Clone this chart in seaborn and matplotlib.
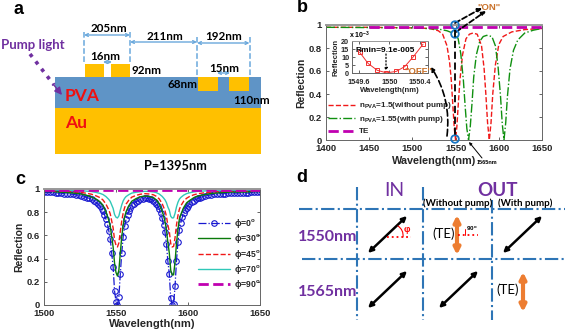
import matplotlib
matplotlib.use("Agg")
import matplotlib.pyplot as plt
import seaborn as sns
from matplotlib.patches import Rectangle, Circle, FancyArrowPatch

sns.set_style("white")
plt.rcParams['font.family'] = ['Liberation Sans', 'DejaVu Sans']
plt.rcParams['mathtext.fontset'] = 'custom'
plt.rcParams['mathtext.bf'] = 'Liberation Sans:bold'
plt.rcParams['mathtext.rm'] = 'Liberation Sans:bold'
plt.rcParams['mathtext.default'] = 'bf'

W, H = 567, 330

# panel b curves
wl_b_red = [1400, 1450, 1500, 1520, 1530, 1535, 1540, 1543, 1545, 1547, 1548.5, 1550, 1551.5, 1553, 1555, 1558,
            1562, 1566, 1570, 1575, 1580, 1583, 1585, 1587, 1589, 1591, 1593, 1596, 1600, 1605, 1615, 1630, 1650]
r_b_red = [.98, .98, .975, .97, .95, .92, .82, .68, .52, .28, .1, 0, .12, .3, .52, .74,
           .88, .92, .93, .92, .82, .62, .4, .15, 0, .15, .4, .65, .83, .9, .94, .96, .97]
wl_b_green = [1400, 1500, 1530, 1540, 1545, 1550, 1553, 1556, 1559, 1561, 1563, 1565, 1567, 1569, 1571, 1574, 1578,
              1582, 1586, 1592, 1596, 1599, 1602, 1604, 1606, 1608, 1610, 1613, 1617, 1622, 1630, 1640, 1650]
r_b_green = [.98, .975, .965, .95, .935, .92, .88, .75, .52, .3, .1, 0, .12, .32, .55, .74, .86,
             .9, .91, .9, .82, .65, .38, .14, 0, .15, .38, .62, .78, .87, .93, .955, .97]
wl_b_te = [1450, 1650]
r_b_te = [.985, .985]

# inset of panel b
wl_inset = [1549.61, 1549.72, 1549.84, 1549.96, 1550.09, 1550.2, 1550.31, 1550.44]
r_inset = [13, 6, 1.7, 0.1, 1, 4, 10, 18]

# panel c curves
wl_phi0 = [1500, 1502, 1504, 1506, 1508, 1510, 1512, 1514, 1516, 1518, 1520, 1522, 1524, 1526, 1528, 1530,
           1531.5, 1533, 1534.5, 1536, 1537.5, 1539, 1540, 1541, 1542, 1543, 1544, 1545, 1546, 1547, 1548, 1549,
           1550, 1551, 1552, 1553, 1554, 1555, 1556, 1557, 1558, 1559, 1560, 1561, 1562.5, 1564, 1565.5, 1567,
           1568.5, 1570, 1571.5, 1573, 1574.5, 1576, 1577, 1578, 1579, 1580, 1581, 1582, 1583, 1584, 1585, 1586,
           1587, 1588, 1589, 1590, 1591, 1592, 1593, 1594, 1595, 1596, 1597, 1598, 1599, 1600, 1601, 1602.5,
           1604, 1605.5, 1607, 1608.5, 1610, 1612, 1614, 1616, 1618, 1620, 1622, 1624, 1626, 1628, 1630,
           1632, 1634, 1636, 1638, 1640, 1642, 1644, 1646, 1648, 1650]
r_phi0 = [.97, .97, .97, .97, .965, .965, .965, .96, .96, .955, .955, .95, .945, .94, .935, .925,
          .92, .91, .90, .885, .87, .85, .83, .81, .78, .74, .70, .64, .57, .45, .33, .12,
          .03, 0, .07, .27, .45, .59, .68, .74, .78, .81, .84, .86, .875, .89, .90, .91,
          .915, .92, .92, .915, .91, .90, .89, .875, .855, .83, .795, .75, .69, .63, .53, .38,
          .27, .06, 0, .01, .16, .38, .54, .65, .71, .755, .79, .815, .84, .855, .87, .885,
          .90, .91, .92, .925, .93, .94, .945, .95, .955, .955, .96, .96, .96, .965, .965,
          .965, .965, .965, .965, .965, .965, .97, .97, .97, .97]
wl_c = [1500, 1505, 1510, 1515, 1520, 1525, 1530, 1533, 1536, 1539, 1541, 1543, 1545, 1546, 1547, 1548, 1549, 1550,
        1551, 1552, 1553, 1554, 1555, 1556, 1557, 1559, 1561, 1564, 1567, 1570, 1573, 1576, 1578, 1580, 1582, 1583,
        1584, 1585, 1586, 1587, 1588, 1589, 1590, 1591, 1592, 1593, 1594, 1595, 1597, 1599, 1601, 1604, 1607, 1610,
        1615, 1620, 1625, 1630, 1635, 1640, 1645, 1650]
r_phi30 = [.978, .978, .974, .97, .966, .959, .944, .932, .914, .888, .858, .805, .73, .68, .59, .50, .36, .28,
           .25, .30, .45, .59, .69, .76, .805, .858, .895, .918, .933, .94, .936, .925, .906, .873, .81, .77,
           .72, .65, .54, .45, .30, .26, .26, .37, .53, .65, .74, .78, .84, .88, .90, .925, .94, .948,
           .959, .966, .97, .974, .974, .974, .978, .978]
r_phi45 = [.985, .985, .983, .98, .978, .972, .962, .955, .942, .925, .905, .87, .82, .785, .725, .665, .56, .515,
           .50, .535, .635, .725, .795, .84, .87, .905, .93, .945, .955, .96, .957, .95, .937, .915, .875, .845,
           .815, .765, .69, .635, .53, .50, .505, .58, .69, .77, .825, .855, .895, .92, .935, .95, .96, .965,
           .972, .978, .98, .983, .983, .983, .985, .985]
r_phi70 = [.993, .993, .991, .99, .989, .986, .981, .978, .971, .962, .952, .935, .91, .893, .863, .833, .78, .757,
           .75, .768, .818, .863, .898, .92, .935, .952, .965, .972, .977, .98, .979, .975, .969, .957, .937, .923,
           .907, .883, .845, .818, .765, .75, .752, .79, .845, .885, .912, .927, .947, .96, .967, .975, .98, .982,
           .986, .989, .99, .991, .991, .991, .993, .993]
wl_c_te = [1500, 1650]
r_phi90 = [.99, .99]

ticks_b = [1400, 1450, 1500, 1550, 1600, 1650]
ticks_c = [1500, 1550, 1600, 1650]
ticks_r = [0, 0.2, 0.4, 0.6, 0.8, 1]
tick_r_labels = ['0', '0.2', '0.4', '0.6', '0.8', '1']
ticks_inset = [1549.6, 1550, 1550.4]
ticks_inset_r = [0, 5, 10, 15, 20]

GOLD = '#FFC000'
PVA_BLUE = '#5F94C6'
DIM_BLUE = '#6AA8DC'
GRID_BLUE = '#2E75B6'
PURPLE = '#7030A0'
ORANGE = '#ED7D31'
OFF_ORANGE = '#C9722B'


def make_axes(fig, left, right, top, bottom):
    return fig.add_axes([left / W, 1 - bottom / H, (right - left) / W, (bottom - top) / H])


def style_axes(ax, size, pad=3):
    for s in ax.spines.values():
        s.set_color('#666666')
        s.set_linewidth(0.7)
    ax.spines['top'].set_color('#999999')
    ax.spines['top'].set_linewidth(1.4)
    ax.tick_params(direction='in', length=2, width=0.5, labelsize=size, pad=pad,
                   bottom=True, left=True, top=True, right=True)
    for t in ax.get_xticklabels() + ax.get_yticklabels():
        t.set_fontweight('bold')


fig = plt.figure(figsize=(W / 100, H / 100), dpi=100)

# panel b
ax_b = make_axes(fig, 326, 542, 25, 140)
sns.lineplot(x=wl_b_red, y=r_b_red, ax=ax_b, color='#F01818', linestyle='--', linewidth=1,
             label=r'n$_{\mathbf{PVA}}$=1.5(without pump)', sort=False, estimator=None)
sns.lineplot(x=wl_b_green, y=r_b_green, ax=ax_b, color='#109010', linestyle='-.', linewidth=1,
             label=r'n$_{\mathbf{PVA}}$=1.55(with pump)', sort=False, estimator=None)
sns.lineplot(x=wl_b_te, y=r_b_te, ax=ax_b, color='#C000B0', linestyle='--', linewidth=2,
             label='TE', sort=False, estimator=None)
ax_b.set_xlim(1400, 1650)
ax_b.set_ylim(0, 1)
ax_b.set_xticks(ticks_b)
ax_b.set_yticks(ticks_r, tick_r_labels)
style_axes(ax_b, 6.8)
ax_b.set_xlabel('Wavelength(nm)', fontsize=7.8, fontweight='bold', labelpad=2)
ax_b.set_ylabel('Reflection', fontsize=7.5, fontweight='bold', labelpad=2)
ax_b.legend(loc='lower left', bbox_to_anchor=(0.01, 0.04), frameon=False, borderpad=0, borderaxespad=0,
            handlelength=3.3, handletextpad=0.45, labelspacing=0.32,
            prop={'size': 5.9, 'weight': 'bold'})

# inset of panel b
ax_i = make_axes(fig, 352, 428, 41, 73)
sns.lineplot(x=wl_inset, y=r_inset, ax=ax_i, color='#F03030', linewidth=0.7, marker='s', markersize=3,
             markerfacecolor='none', markeredgecolor='#F03030', markeredgewidth=0.7, sort=False, estimator=None)
ax_i.set_xlim(1549.51, 1550.505)
ax_i.set_ylim(0, 20)
ax_i.set_xticks(ticks_inset, ['1549.6', '1550', '1550.4'])
ax_i.set_yticks(ticks_inset_r)
style_axes(ax_i, 5.2, pad=2)
ax_i.tick_params(axis='x', pad=4)
ax_i.spines['top'].set_linewidth(0.7)
ax_i.set_xlabel('Wavelength(nm)', fontsize=5.5, fontweight='bold', labelpad=1)
ax_i.set_ylabel('Reflection', fontsize=5.5, fontweight='bold', labelpad=1)

# panel c
ax_c = make_axes(fig, 44, 260, 189, 305)
sns.lineplot(x=wl_phi0, y=r_phi0, ax=ax_c, color='#1818D0', linestyle='-.', linewidth=0.9, marker='o', markersize=4,
             markerfacecolor='none', markeredgecolor='#1818D0', markeredgewidth=0.8,
             label='ϕ=0$^{o}$', sort=False, estimator=None)
sns.lineplot(x=wl_c, y=r_phi30, ax=ax_c, color='#0A7A0A', linewidth=1,
             label='ϕ=30$^{o}$', sort=False, estimator=None)
sns.lineplot(x=wl_c, y=r_phi45, ax=ax_c, color='#F01818', linestyle='--', linewidth=1,
             label='ϕ=45$^{o}$', sort=False, estimator=None)
sns.lineplot(x=wl_c, y=r_phi70, ax=ax_c, color='#30C8B8', linewidth=1,
             label='ϕ=70$^{o}$', sort=False, estimator=None)
sns.lineplot(x=wl_c_te, y=r_phi90, ax=ax_c, color='#C000B0', linestyle='--', linewidth=2,
             label='ϕ=90$^{o}$', sort=False, estimator=None)
ax_c.set_xlim(1500, 1650)
ax_c.set_ylim(0, 1)
ax_c.set_xticks(ticks_c)
ax_c.set_yticks(ticks_r, tick_r_labels)
style_axes(ax_c, 6.8)
ax_c.set_xlabel('Wavelength(nm)', fontsize=8, fontweight='bold', labelpad=0.5)
ax_c.set_ylabel('Reflection', fontsize=7.5, fontweight='bold', labelpad=2)
ax_c.legend(loc='upper left', bbox_to_anchor=(0.715, 0.755), frameon=False, borderpad=0, borderaxespad=0,
            handlelength=3.7, handletextpad=0.4, labelspacing=0.24,
            prop={'size': 6.2, 'weight': 'bold'})

# everything else is drawn on a pixel overlay
ov = fig.add_axes([0, 0, 1, 1], facecolor='none')
ov.set_xlim(0, W)
ov.set_ylim(H, 0)
ov.axis('off')


def rect(x0, x1, y0, y1, color):
    ov.add_patch(Rectangle((x0, y0), x1 - x0, y1 - y0, facecolor=color, edgecolor='none'))


def arrow(p0, p1, color='black', style='->', lw=1.0, ls='-', ms=5, conn=None):
    ov.add_patch(FancyArrowPatch(p0, p1, arrowstyle=style, color=color, linewidth=lw, linestyle=ls,
                                 mutation_scale=ms, shrinkA=0, shrinkB=0, connectionstyle=conn))


def label(x, y, s, size, color='black', weight='normal', family='Lato'):
    ov.text(x, y, s, fontsize=size, color=color, fontweight=weight, family=[family, 'DejaVu Sans'],
            ha='center', va='center')


# panel letters
for x, y, s in [(19, 9, 'a'), (302, 8, 'b'), (20, 179, 'c'), (302, 178, 'd')]:
    label(x, y, s, 13, weight='bold', family='Liberation Sans')

# panel a
rect(55, 261, 108, 154, GOLD)
rect(55, 261, 77, 108, PVA_BLUE)
for x0, x1, y0, y1 in [(85, 104, 64, 77), (111, 130, 64, 77), (198, 218, 77, 91), (229, 249, 77, 91)]:
    rect(x0, x1, y0, y1, GOLD)
for x, y0, y1 in [(84, 32, 64), (130, 32, 64), (197, 37, 77), (249.5, 37, 77)]:
    ov.plot([x, x], [y0, y1], color=DIM_BLUE, linestyle='--', linewidth=1.1)
for x0, x1, y in [(84, 130, 35), (130, 197, 42), (197, 249.5, 43), (103, 112, 62), (217, 230, 73)]:
    arrow((x0, y), (x1, y), color=DIM_BLUE, style='<->', lw=1.0, ms=5)
for x, y, s in [(109, 28, '205nm'), (165, 36, '211nm'), (224, 37, '192nm'), (105, 56, '16nm'), (147, 71, '92nm'),
                (224, 68, '15nm'), (183, 84, '68nm'), (252, 101, '110nm')]:
    label(x, y, s, 8.4, weight='bold')
label(82, 96, 'PVA', 12.5, color='#F01010', weight='bold')
label(76, 123, 'Au', 12.5, color='#F01010', weight='bold')
label(175, 166, 'P=1395nm', 9.2, weight='bold')
label(33, 45, 'Pump light', 9.5, color=PURPLE, weight='bold')
ov.plot([30, 54], [54, 85], color=PURPLE, linestyle=(0, (1, 1.6)), linewidth=2.6)
arrow((53, 84), (62, 95), color=PURPLE, style='-|>', lw=1, ms=11)

# panel b annotations
arrow((455, 23), (482, 8), lw=1.3, ls=(0, (3, 1.5)), style='-|>', ms=6)
arrow((456, 32), (486, 11), lw=1.3, ls=(0, (3, 1.5)), style='-|>', ms=6)
ov.plot([455, 455], [30, 137], color='black', linestyle=(0, (4, 2)), linewidth=1.3)
arrow((447, 136), (431, 67), lw=1.2, ls=(0, (4, 2)), style='-|>', ms=6, conn='arc3,rad=0.18')
for y in [25, 34, 139]:
    ov.add_patch(Circle((455, y), 3.8, facecolor='none', edgecolor='#1878C8', linewidth=1.3))
label(489, 7, '"ON"', 6.8, color=OFF_ORANGE, weight='bold', family='Liberation Sans')
label(418, 71, '"OFF"', 6.8, color=OFF_ORANGE, weight='bold', family='Liberation Sans')
label(385, 50, 'Rmin=9.1e-005', 6, weight='bold', family='Liberation Sans')
arrow((386, 54), (386, 71), lw=0.9, ls=':', style='-|>', ms=4)
label(360, 35, 'x 10$^{-3}$', 5, weight='bold', family='Liberation Sans')
label(487, 163, '1565nm', 4, weight='bold', family='Liberation Sans')
arrow((482, 158), (469, 142), lw=0.7, style='-|>', ms=4)

# panel d
for x0, x1, y in [(299, 565, 209), (302, 565, 259)]:
    ov.plot([x0, x1], [y, y], color=GRID_BLUE, linestyle='-.', linewidth=1.5)
for x, y0, y1 in [(357, 187, 320), (423, 187, 320), (492, 200, 320)]:
    ov.plot([x, x], [y0, y1], color=GRID_BLUE, linestyle='-.', linewidth=1.5)
for p0, p1 in [((368, 253), (407, 216)), ((503, 253), (542, 216)), ((368, 308), (407, 271)), ((439, 308), (478, 271))]:
    arrow(p0, p1, style='<|-|>', lw=1.8, ms=7)
for x, y0, y1 in [(457, 215, 255), (523, 272, 312)]:
    arrow((x, y0), (x, y1), color=ORANGE, style='<|-|>', lw=3, ms=9)
label(394, 191, 'IN', 14, color=PURPLE)
label(498, 191, 'OUT', 13.5, color=PURPLE, weight='bold')
label(458, 203, '(Without pump)', 7, weight='bold')
label(525, 203, '(With pump)', 7, weight='bold')
label(328, 237, '1550nm', 11.5, color=PURPLE, weight='bold')
label(328, 292, '1565nm', 11.5, color=PURPLE, weight='bold')
label(444, 234, '(TE)', 9.5)
label(508, 290, '(TE)', 9.5)
ov.plot([387, 411], [237, 237], color='red', linestyle=':', linewidth=1.3)
ov.plot([458, 478], [235, 235], color='red', linestyle=':', linewidth=1.3)
ov.plot([465, 465], [229, 235], color='red', linewidth=0.7)
arrow((398, 226), (403, 237), color='red', style='-', lw=0.8, conn='arc3,rad=-0.3')
label(407, 229, 'φ', 6.5, color='red', weight='bold', family='Liberation Sans')
label(472, 229, '90$^{o}$', 4.5, weight='bold', family='Liberation Sans')

fig.savefig('out.png', dpi=100)
